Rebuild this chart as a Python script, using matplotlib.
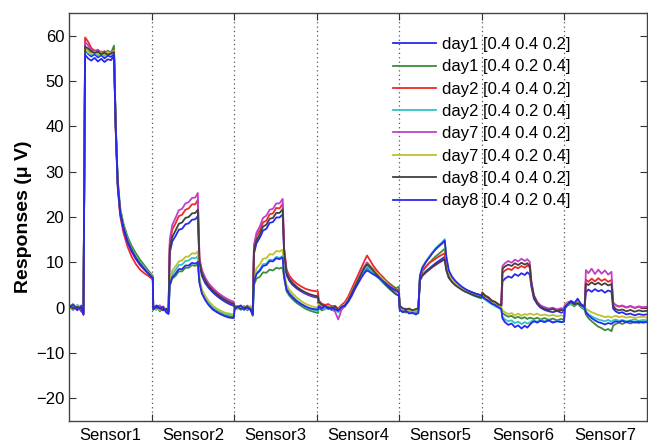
import matplotlib
matplotlib.use("Agg")
import matplotlib.pyplot as plt

plt.rcParams['font.family'] = ['Liberation Sans', 'DejaVu Sans']

# sample positions (global sample index, 100 samples per sensor)
x = [
    0, 5, 10, 15, 17.5, 19.5, 23, 27, 31, 35, 39, 43, 47, 51, 54.5, 56.5, 59, 62, 66, 71, 76, 81, 86, 91, 96, 101.5,
    102, 106, 110, 114, 118, 120.5, 122, 125, 129, 133, 137, 141, 145, 149, 153, 156, 158, 161, 165, 169, 174, 179, 184, 189, 194, 199.5,
    200.5, 204, 208, 212, 216, 220, 222.5, 224, 227, 231, 235, 239, 243, 247, 251, 255, 258.8, 260.5, 263.5, 267, 271, 276, 281, 286, 291, 296, 301.5,
    302.5, 306, 310, 314, 318, 322, 326, 330, 334, 338, 342, 346, 350, 354, 358, 361, 364, 368, 372, 376, 380, 384, 388, 392, 396, 399.5,
    400.5, 404, 408, 412, 416, 420, 423, 425, 428, 432, 436, 440, 444, 448, 452, 455, 457, 460, 464, 468, 472, 476, 480, 484, 488, 492, 496, 499.5,
    500.5, 504, 508, 512, 516, 520, 523.5, 525, 528, 532, 536, 540, 544, 548, 552, 555, 558, 560, 563, 567, 571, 576, 581, 586, 591, 596, 599.5,
    600.5, 604, 608, 612, 616, 620, 624.5, 626, 629, 633, 637, 641, 645, 649, 653, 657, 659, 662, 666, 670, 675, 680, 685, 690, 695, 699.5,
]

day1_a = [  # day1 [0.4 0.4 0.2]
    0.6, -0.4, 0.3, -0.8, -1.2, 56.8, 56.0, 55.4, 55.9, 55.2, 55.7, 55.0, 55.6, 55.3, 56.2, 40.5, 27.5, 21.0, 17.6, 14.6, 12.6, 11.0, 9.8, 8.6, 7.6, 6.6,
    0.3, -0.4, 0.2, -0.6, -0.2, -1.0, 12.0, 14.6, 15.8, 17.2, 17.4, 18.4, 18.6, 19.4, 19.5, 20.2, 9.5, 7.0, 5.4, 4.4, 3.4, 2.6, 1.9, 1.3, 0.8, 0.4,
    0.2, -0.3, 0.4, -0.5, 0.1, -0.4, -1.5, 11.9, 14.2, 15.4, 17.0, 17.4, 18.7, 18.9, 19.9, 19.9, 20.6, 12.0, 7.2, 5.9, 5.0, 4.2, 3.6, 3.1, 2.7, 2.4, 2.2,
    0.8, 0.2, 0.5, -0.1, 0.3, -0.3, -0.4, 0.4, 0.2, 1.6, 2.6, 4.4, 5.6, 7.0, 8.2, 8.7, 8.4, 7.9, 7.4, 6.9, 6.2, 5.6, 5.0, 4.5, 4.0, 3.7,
    -0.2, -0.6, -0.3, -1.0, -0.7, -0.9, -0.6, 6.2, 7.2, 8.0, 8.6, 9.2, 9.8, 10.3, 10.8, 11.2, 8.5, 6.8, 5.8, 5.2, 4.7, 4.3, 3.9, 3.6, 3.3, 3.1, 2.9, 2.7,
    2.8, 2.2, 1.9, 1.2, 1.0, 0.4, 0.3, 5.8, 6.4, 6.9, 6.6, 7.4, 7.0, 7.6, 7.2, 7.8, 7.3, 4.6, 2.0, 0.8, 0.0, -0.5, -0.8, -1.0, -0.7, -1.1, -0.9,
    0.3, 0.9, 1.1, 0.6, 1.6, 0.4, 0.2, 3.4, 4.0, 3.5, 4.1, 3.6, 3.9, 3.3, 3.8, 3.5, -0.2, -0.8, -1.2, -1.0, -1.5, -1.3, -1.7, -1.4, -1.6, -1.5,
]
day1_b = [  # day1 [0.4 0.2 0.4]
    0.2, 0.8, -0.3, 0.4, -0.9, 57.2, 56.6, 56.3, 56.8, 56.1, 56.5, 56.0, 56.7, 56.2, 57.8, 41.0, 28.3, 22.0, 18.5, 15.6, 13.6, 12.0, 10.6, 9.4, 8.2, 7.0,
    -0.5, 0.3, -0.8, 0.0, -1.0, -1.2, 4.8, 6.4, 7.0, 8.0, 8.0, 8.8, 8.8, 9.4, 9.2, 9.6, 5.6, 3.2, 1.8, 0.8, -0.1, -0.8, -1.3, -1.7, -1.9, -2.1,
    -0.5, 0.2, -0.2, 0.3, -0.6, 0.0, -1.8, 5.0, 6.4, 6.8, 7.8, 7.7, 8.4, 8.2, 8.8, 8.6, 8.9, 6.5, 3.6, 2.6, 1.8, 1.0, 0.4, -0.2, -0.6, -0.9, -1.2,
    0.0, -0.6, -0.3, 0.2, -0.5, 0.1, -0.9, -0.2, 0.6, 1.2, 2.8, 4.2, 5.8, 7.2, 8.6, 9.3, 9.0, 8.6, 8.0, 7.4, 6.8, 6.0, 5.4, 4.8, 4.3, 4.6,
    0.0, -0.8, -1.1, -0.6, -1.3, -1.0, -0.9, 6.5, 8.0, 9.0, 9.8, 10.6, 11.3, 11.9, 12.5, 13.0, 9.8, 7.4, 6.2, 5.5, 4.9, 4.4, 4.0, 3.7, 3.4, 3.1, 2.9, 2.6,
    2.6, 2.0, 1.4, 1.1, 0.5, 0.2, -0.2, -1.2, -1.6, -2.0, -1.8, -2.3, -2.0, -2.4, -2.1, -2.5, -2.2, -2.3, -2.5, -2.2, -2.6, -2.3, -2.7, -2.4, -2.8, -2.5, -2.6,
    -0.2, 0.5, 0.8, 0.3, 0.9, 0.1, -0.5, -1.5, -2.3, -3.0, -3.6, -4.2, -4.5, -5.0, -4.7, -5.2, -4.0, -3.6, -3.3, -3.6, -3.2, -3.5, -3.1, -3.4, -3.0, -3.2,
]
day2_a = [  # day2 [0.4 0.4 0.2]
    -0.2, 0.5, 0.0, -0.5, -1.5, 59.6, 58.7, 57.3, 56.6, 56.9, 56.2, 56.6, 55.9, 56.3, 56.8, 39.5, 26.5, 20.2, 16.5, 13.4, 11.2, 9.6, 8.4, 7.6, 7.0, 6.2,
    0.0, 0.4, -0.3, 0.2, -0.7, -0.8, 14.0, 17.2, 18.6, 20.2, 20.5, 21.6, 21.9, 22.8, 22.8, 23.8, 10.5, 7.8, 6.2, 5.0, 4.0, 3.1, 2.4, 1.8, 1.3, 0.9,
    0.5, 0.0, -0.2, 0.3, -0.3, 0.2, -1.2, 13.5, 15.8, 17.0, 18.8, 19.2, 20.6, 20.8, 22.0, 21.9, 22.9, 13.0, 8.4, 7.0, 6.1, 5.3, 4.7, 4.2, 3.9, 3.7, 3.6,
    1.6, 0.9, 0.6, 0.8, 0.3, 0.4, -0.2, 0.6, 1.2, 2.4, 4.0, 5.6, 7.2, 8.8, 10.4, 11.5, 10.6, 9.4, 8.4, 7.5, 6.6, 5.8, 5.1, 4.5, 4.0, 3.6,
    0.3, -0.2, -0.5, -0.3, -0.8, -0.4, -0.3, 6.8, 8.2, 9.0, 9.8, 10.3, 10.8, 11.3, 11.7, 12.0, 9.0, 7.2, 6.2, 5.4, 4.8, 4.4, 4.0, 3.6, 3.3, 3.0, 2.8, 2.6,
    3.4, 2.7, 2.3, 1.6, 1.2, 0.8, 0.4, 7.6, 8.2, 8.6, 8.3, 9.0, 8.7, 9.2, 8.8, 9.3, 8.9, 5.2, 2.6, 1.2, 0.4, 0.0, -0.3, -0.2, -0.5, -0.3, -0.4,
    0.6, 1.2, 1.4, 0.9, 1.3, 0.7, 0.4, 6.2, 5.7, 6.4, 5.8, 6.5, 5.9, 6.3, 5.7, 6.1, 1.2, 0.5, 0.2, 0.4, 0.0, 0.3, -0.1, 0.2, 0.0, 0.1,
]
day2_b = [  # day2 [0.4 0.2 0.4]
    0.4, -0.6, 0.6, 0.1, -1.0, 57.0, 56.2, 55.8, 56.3, 55.6, 56.0, 55.5, 56.1, 55.8, 56.5, 40.8, 27.8, 21.6, 18.0, 15.0, 13.0, 11.3, 10.0, 8.9, 7.8, 6.8,
    0.2, -0.5, 0.4, -0.3, -0.6, -1.0, 5.5, 7.4, 8.3, 9.4, 9.5, 10.3, 10.4, 11.0, 10.9, 11.3, 6.0, 3.6, 2.2, 1.2, 0.3, -0.4, -0.9, -1.3, -1.5, -1.7,
    0.0, 0.4, -0.5, -0.1, 0.5, -0.6, -1.4, 5.8, 7.7, 8.4, 9.6, 9.7, 10.6, 10.5, 11.2, 11.0, 11.4, 7.2, 4.3, 3.3, 2.5, 1.6, 0.9, 0.3, -0.2, -0.5, -0.7,
    0.4, 0.0, -0.4, 0.3, -0.6, -0.1, -1.0, 0.0, 0.3, 1.3, 2.7, 4.3, 5.7, 7.1, 8.4, 9.0, 8.5, 7.8, 7.0, 6.3, 5.5, 4.8, 4.1, 3.5, 2.9, 2.6,
    -0.4, -0.9, -0.6, -1.2, -0.9, -1.4, -1.0, 7.2, 9.0, 10.2, 11.2, 12.2, 13.1, 13.8, 14.5, 15.1, 11.0, 7.8, 6.3, 5.4, 4.7, 4.1, 3.6, 3.2, 2.8, 2.5, 2.2, 2.0,
    2.2, 1.8, 1.2, 0.8, 0.3, 0.0, -0.4, -2.0, -2.6, -3.0, -2.8, -3.4, -3.1, -3.6, -3.2, -3.5, -3.3, -3.0, -2.8, -3.1, -2.7, -3.0, -2.8, -3.2, -2.9, -3.1, -3.0,
    0.1, 0.7, 0.9, 0.5, 1.1, 0.2, -0.2, -0.8, -1.4, -1.9, -2.3, -2.6, -2.8, -3.0, -2.7, -3.1, -2.8, -2.6, -2.9, -2.7, -3.0, -2.8, -2.6, -2.9, -2.7, -2.8,
]
day7_a = [  # day7 [0.4 0.4 0.2]
    0.1, 0.3, -0.6, 0.5, -1.1, 58.6, 57.9, 56.9, 56.4, 56.8, 56.1, 56.5, 56.0, 56.4, 56.6, 40.2, 27.2, 21.0, 17.4, 14.3, 12.3, 10.7, 9.4, 8.4, 7.5, 6.6,
    -0.3, 0.2, 0.5, -0.4, -0.5, -0.9, 15.0, 18.2, 19.8, 21.5, 21.8, 23.0, 23.3, 24.2, 24.3, 25.3, 11.0, 8.3, 6.6, 5.4, 4.4, 3.5, 2.8, 2.2, 1.7, 1.3,
    -0.2, 0.3, 0.1, -0.4, 0.4, -0.2, -1.3, 13.8, 16.5, 17.9, 19.8, 20.3, 21.6, 21.8, 23.0, 23.0, 24.0, 13.2, 7.9, 6.5, 5.5, 4.6, 3.9, 3.3, 2.9, 2.6, 2.4,
    0.6, 0.3, 0.0, 0.5, -0.4, -0.8, -2.6, -0.5, 0.4, 1.8, 3.3, 4.9, 6.4, 8.0, 9.2, 10.0, 9.4, 8.6, 7.8, 7.0, 6.2, 5.4, 4.7, 4.0, 3.6, 3.3,
    0.1, -0.4, -0.2, -0.7, -0.5, -0.8, -0.4, 6.0, 7.0, 7.7, 8.3, 8.9, 9.4, 9.9, 10.3, 10.6, 8.2, 6.6, 5.7, 5.1, 4.6, 4.2, 3.8, 3.5, 3.2, 3.0, 2.8, 2.6,
    3.0, 2.5, 2.1, 1.5, 1.2, 0.6, 0.3, 9.2, 9.8, 10.3, 9.9, 10.6, 10.2, 10.8, 10.3, 10.7, 10.1, 5.8, 2.8, 1.3, 0.5, 0.1, -0.2, 0.0, -0.4, -0.1, -0.3,
    0.5, 1.0, 1.3, 0.8, 1.2, 0.6, 0.3, 8.3, 7.6, 8.6, 7.4, 8.4, 7.5, 8.2, 7.3, 7.9, 1.0, 0.6, 0.3, 0.5, 0.1, 0.4, 0.0, 0.3, 0.1, 0.2,
]
day7_b = [  # day7 [0.4 0.2 0.4]
    -0.3, 0.2, 0.5, -0.4, -0.8, 57.3, 56.5, 56.0, 56.5, 55.9, 56.3, 55.8, 56.4, 56.0, 56.7, 40.6, 27.6, 21.4, 17.8, 14.8, 12.8, 11.1, 9.8, 8.7, 7.7, 6.7,
    0.5, -0.2, -0.5, 0.3, -0.9, -1.1, 6.0, 8.2, 9.1, 10.2, 10.4, 11.2, 11.3, 12.0, 11.9, 12.4, 6.6, 4.0, 2.6, 1.5, 0.5, -0.2, -0.7, -1.1, -1.3, -1.5,
    0.3, -0.4, 0.3, 0.2, -0.3, 0.4, -1.0, 6.5, 8.7, 9.5, 10.8, 10.9, 11.8, 11.7, 12.5, 12.4, 12.8, 7.8, 5.0, 3.9, 3.1, 2.2, 1.5, 0.9, 0.5, 0.2, 0.0,
    0.9, 0.6, 0.1, 0.4, 0.0, 0.2, -0.5, 0.3, 0.7, 1.7, 3.2, 4.8, 6.2, 7.6, 8.9, 9.6, 9.2, 8.5, 7.8, 7.1, 6.3, 5.6, 4.9, 4.3, 3.8, 3.4,
    0.2, -0.3, -0.8, -0.5, -1.0, -0.6, -0.7, 7.0, 8.8, 10.0, 11.0, 12.0, 12.8, 13.5, 14.1, 14.6, 10.6, 7.6, 6.2, 5.4, 4.8, 4.3, 3.9, 3.5, 3.2, 2.9, 2.6, 2.4,
    2.9, 2.4, 1.7, 1.4, 0.8, 0.5, 0.1, -0.6, -1.0, -1.4, -1.2, -1.7, -1.3, -1.8, -1.4, -1.6, -1.3, -1.4, -1.6, -1.3, -1.7, -1.5, -1.8, -1.6, -1.9, -1.7, -1.8,
    0.4, 1.1, 1.0, 0.7, 1.4, 0.5, 0.1, -0.2, -0.6, -1.0, -1.3, -1.6, -1.8, -2.1, -1.9, -2.2, -2.0, -1.8, -2.1, -1.9, -2.2, -2.0, -2.3, -2.1, -2.0, -2.2,
]
day8_a = [  # day8 [0.4 0.4 0.2]
    0.5, -0.2, 0.2, -0.3, -1.3, 57.6, 57.2, 56.6, 56.2, 56.5, 55.9, 56.3, 55.7, 56.1, 56.4, 40.3, 27.4, 21.2, 17.7, 14.7, 12.7, 11.0, 9.7, 8.6, 7.6, 6.6,
    0.1, 0.0, -0.1, -0.5, -0.3, -0.9, 13.0, 15.6, 17.0, 18.5, 18.8, 19.8, 20.0, 20.8, 20.9, 21.6, 10.0, 7.5, 5.9, 4.8, 3.8, 3.0, 2.3, 1.7, 1.2, 0.8,
    0.1, 0.2, -0.3, 0.0, 0.2, -0.3, -1.4, 12.5, 14.9, 16.1, 17.9, 18.3, 19.6, 19.8, 20.9, 20.9, 21.7, 12.5, 7.6, 6.2, 5.3, 4.5, 3.9, 3.4, 3.0, 2.7, 2.5,
    1.2, 0.7, 0.3, 0.1, -0.3, 0.3, -0.6, 0.1, 0.5, 1.5, 3.0, 4.6, 6.0, 7.5, 8.9, 9.6, 9.1, 8.3, 7.4, 6.6, 5.8, 5.0, 4.3, 3.6, 3.0, 2.7,
    0.4, -0.1, -0.4, -0.2, -0.6, -0.3, -0.2, 6.1, 7.1, 7.8, 8.4, 9.0, 9.5, 10.0, 10.4, 10.7, 8.3, 6.6, 5.6, 4.9, 4.4, 3.9, 3.5, 3.2, 2.9, 2.6, 2.4, 2.2,
    3.2, 2.6, 2.2, 1.5, 1.3, 0.7, 0.5, 8.6, 9.1, 9.5, 9.2, 9.8, 9.4, 9.9, 9.5, 9.8, 9.3, 5.4, 2.5, 1.0, 0.2, -0.3, -0.5, -0.3, -0.7, -0.5, -0.6,
    0.2, 0.8, 1.2, 0.7, 1.0, 0.5, 0.2, 5.3, 5.0, 5.6, 5.1, 5.5, 5.0, 5.4, 4.9, 5.2, 0.4, -0.3, -0.6, -0.4, -0.8, -0.5, -0.9, -0.6, -0.8, -0.7,
]
day8_b = [  # day8 [0.4 0.2 0.4]
    -0.1, 0.6, -0.5, 0.3, -1.6, 55.8, 55.0, 54.5, 55.1, 54.3, 54.9, 54.2, 54.8, 54.6, 55.6, 40.0, 27.0, 20.8, 17.3, 14.4, 12.4, 10.8, 9.5, 8.5, 7.5, 6.5,
    -0.4, 0.5, -0.2, 0.2, -1.1, -1.4, 5.0, 6.7, 7.5, 8.5, 8.5, 9.3, 9.3, 9.9, 9.7, 10.1, 5.5, 3.1, 1.7, 0.6, -0.4, -1.0, -1.5, -1.9, -2.2, -2.3,
    -0.3, 0.1, 0.5, -0.3, 0.0, -0.5, -1.6, 5.5, 7.4, 8.1, 9.2, 9.4, 10.3, 10.2, 10.9, 10.7, 11.1, 7.0, 4.0, 3.0, 2.2, 1.4, 0.8, 0.3, -0.1, -0.3, -0.4,
    0.3, -0.2, 0.4, -0.3, 0.1, -0.4, -0.7, 0.2, 0.4, 1.3, 2.5, 4.0, 5.3, 6.6, 7.7, 8.2, 7.9, 7.4, 7.0, 6.5, 5.9, 5.3, 4.7, 4.2, 3.8, 3.4,
    -0.5, -1.0, -0.7, -1.3, -1.1, -1.5, -1.2, 7.0, 8.8, 10.0, 11.0, 12.0, 12.9, 13.6, 14.2, 14.8, 11.2, 8.2, 6.8, 5.9, 5.2, 4.6, 4.1, 3.7, 3.4, 3.1, 2.9, 2.7,
    2.5, 1.9, 1.5, 0.9, 0.6, 0.1, -0.3, -2.4, -3.2, -3.8, -3.5, -4.3, -3.9, -4.6, -4.0, -4.4, -3.8, -3.4, -3.0, -3.3, -2.9, -3.2, -2.8, -3.3, -3.0, -3.2, -3.1,
    0.0, 0.8, 1.5, 1.0, 2.0, 0.8, 0.0, -1.0, -1.7, -2.3, -2.8, -3.2, -3.4, -3.7, -3.4, -3.6, -3.3, -3.0, -3.2, -2.9, -3.2, -3.0, -3.3, -3.1, -3.3, -3.2,
]

series = [day1_a, day1_b, day2_a, day2_b, day7_a, day7_b, day8_a, day8_b]
labels = ["day1 [0.4 0.4 0.2]", "day1 [0.4 0.2 0.4]",
          "day2 [0.4 0.4 0.2]", "day2 [0.4 0.2 0.4]",
          "day7 [0.4 0.4 0.2]", "day7 [0.4 0.2 0.4]",
          "day8 [0.4 0.4 0.2]", "day8 [0.4 0.2 0.4]"]
colors = ["#2828f0", "#3c8c3c", "#f02828", "#30c4c4",
          "#c040c8", "#c0c030", "#404040", "#2828f0"]

sensors = ["Sensor1", "Sensor2", "Sensor3", "Sensor4", "Sensor5", "Sensor6", "Sensor7"]
boundaries = [100, 200, 300, 400, 500, 600]
centers = [50, 150, 250, 350, 450, 550, 650]

fig = plt.figure(figsize=(6.48, 4.45), dpi=100)
ax = fig.add_axes([69/648, 1 - 421/445, 578/648, (421 - 13)/445])

for ys, c, lab in zip(series, colors, labels):
    ax.plot(x, ys, color=c, lw=1.3, label=lab)

for b in boundaries:
    ax.axvline(b, color="#555555", ls=(0, (1, 2.5)), lw=0.9, zorder=0)

ax.set_xlim(0, 700)
ax.set_ylim(-25, 65)
ax.set_yticks([-20, -10, 0, 10, 20, 30, 40, 50, 60])
ax.set_xticks(boundaries)
ax.set_xticklabels([])
ax.set_xticks(centers, minor=True)
ax.set_xticklabels(sensors, minor=True)
ax.tick_params(axis="x", which="minor", length=0, pad=5, labelsize=12)
ax.tick_params(axis="both", which="major", direction="in", length=5, width=0.8,
               top=True, right=True, labelsize=12, colors="#333333", labelcolor="black")
for s in ax.spines.values():
    s.set_color("#444444")
    s.set_linewidth(1.0)
ax.set_ylabel("Responses (\u03bc V)", fontsize=14, fontweight="bold", labelpad=3)

leg = ax.legend(loc="upper left", bbox_to_anchor=(393/648, 1 - 37/445),
                bbox_transform=fig.transFigure, frameon=False, fontsize=12,
                handlelength=2.6, handletextpad=0.35, labelspacing=0.44,
                borderpad=0, borderaxespad=0)

fig.savefig("out.png", dpi=100, facecolor="white")
